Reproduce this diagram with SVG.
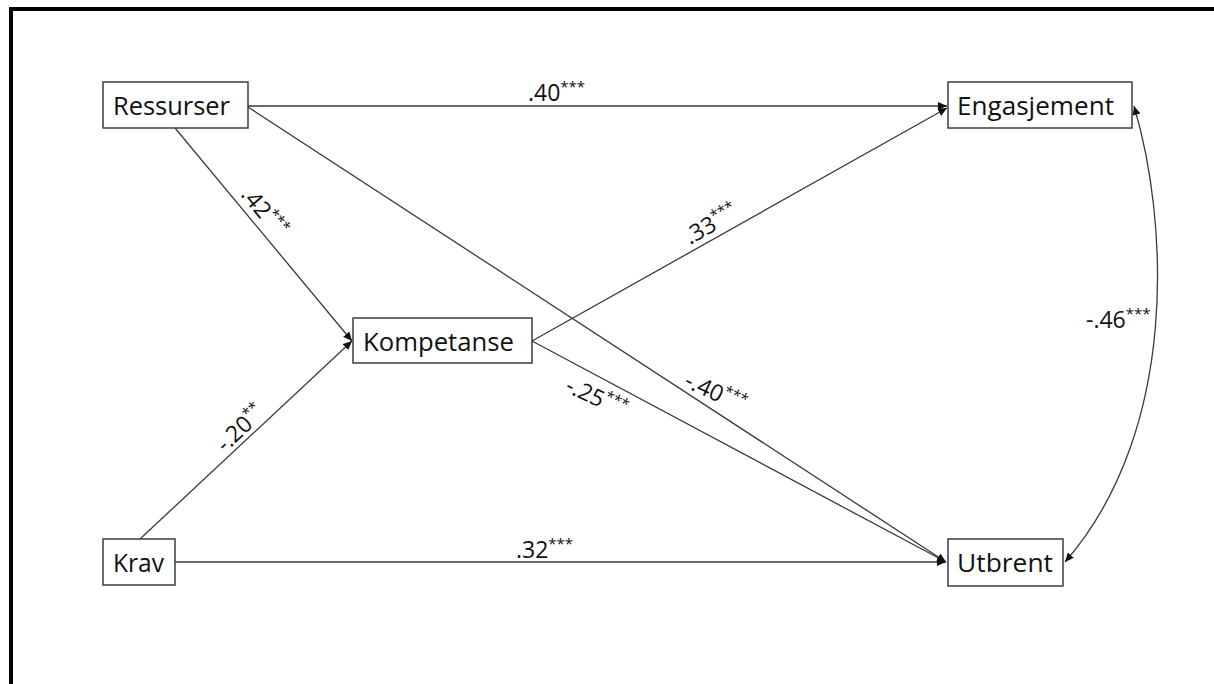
<svg xmlns="http://www.w3.org/2000/svg" width="1214" height="684" viewBox="0 0 1214 684">
<style>
.box{fill:#fff;stroke:#3c3c3c;stroke-width:1.5}
.nt{font-family:"Open Sans","Liberation Sans",sans-serif;font-size:25px;fill:#111}
.lb{font-family:"Open Sans","Liberation Sans",sans-serif;font-size:23px;fill:#111}
.sup{font-size:15px}
.c{fill:none;stroke:#3a3a3a;stroke-width:1.3}
</style>
<defs>
<marker id="ah" viewBox="0 0 10 10" refX="10" refY="5" markerWidth="9" markerHeight="9" markerUnits="userSpaceOnUse" orient="auto-start-reverse">
<path d="M0,0.5 L10,5 L0,9.5 z" fill="#111"/>
</marker>
</defs>
<rect width="1214" height="684" fill="#fff"/>
<path d="M11,684 V9 H1214" fill="none" stroke="#000" stroke-width="4"/>
<g id="connectors">
<path class="c" d="M248,106 H947" marker-end="url(#ah)"/>
<path class="c" d="M248,107 L946,562" marker-end="url(#ah)"/>
<path class="c" d="M175,128 L352,341" marker-end="url(#ah)"/>
<path class="c" d="M140,539 L352,341" marker-end="url(#ah)"/>
<path class="c" d="M175,562 H946" marker-end="url(#ah)"/>
<path class="c" d="M532,341 L947,108" marker-end="url(#ah)"/>
<path class="c" d="M532,341 L946,562" marker-end="url(#ah)"/>
<path class="c" d="M1134,106 C1168,220 1180,430 1065,562" marker-start="url(#ah)" marker-end="url(#ah)"/>
</g>
<g id="labels">
<text class="lb" x="528" y="101">.40<tspan class="sup" dy="-9">***</tspan></text>
<text class="lb" x="516" y="558">.32<tspan class="sup" dy="-9">***</tspan></text>
<text class="lb" x="1086" y="328">-.46<tspan class="sup" dy="-9">***</tspan></text>
<text class="lb" transform="translate(240,195) rotate(50.3)">.42<tspan class="sup" dy="-9">***</tspan></text>
<text class="lb" transform="translate(690,245) rotate(-29.4)">.33<tspan class="sup" dy="-9">***</tspan></text>
<text class="lb" transform="translate(225,453) rotate(-43)">-.20<tspan class="sup" dy="-9">**</tspan></text>
<text class="lb" transform="translate(564,391) rotate(25)">-.25<tspan class="sup" dy="-9">***</tspan></text>
<text class="lb" transform="translate(683,386) rotate(25)">-.40<tspan class="sup" dy="-9">***</tspan></text>
</g>
<g id="ressurser">
<rect class="box" x="103" y="82" width="145" height="46"/>
<text class="nt" x="113" y="115" textLength="117" lengthAdjust="spacingAndGlyphs">Ressurser</text>
</g>
<g id="engasjement">
<rect class="box" x="948" y="82" width="184" height="46"/>
<text class="nt" x="957" y="115" textLength="157" lengthAdjust="spacingAndGlyphs">Engasjement</text>
</g>
<g id="kompetanse">
<rect class="box" x="353" y="318" width="179" height="45"/>
<text class="nt" x="363" y="351" textLength="151" lengthAdjust="spacingAndGlyphs">Kompetanse</text>
</g>
<g id="krav">
<rect class="box" x="103" y="539" width="72" height="46"/>
<text class="nt" x="113" y="572" textLength="51" lengthAdjust="spacingAndGlyphs">Krav</text>
</g>
<g id="utbrent">
<rect class="box" x="948" y="539" width="115" height="47"/>
<text class="nt" x="957" y="572" textLength="96" lengthAdjust="spacingAndGlyphs">Utbrent</text>
</g>
</svg>
